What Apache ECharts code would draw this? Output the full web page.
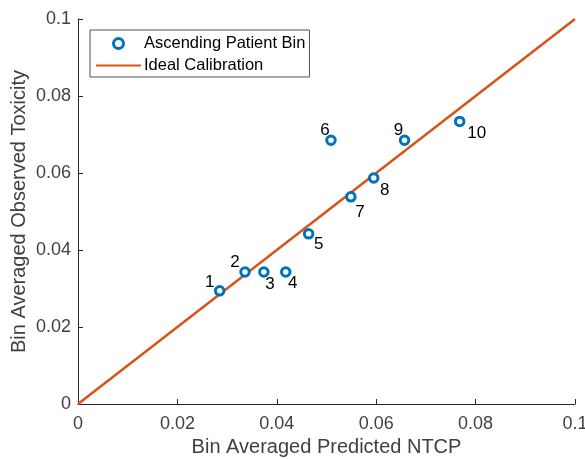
<!DOCTYPE html>
<html>
<head>
<meta charset="utf-8">
<script src="https://cdn.jsdelivr.net/npm/echarts@6/dist/echarts.min.js"></script>
<style>html,body{margin:0;padding:0;background:#fff}#c{width:585px;height:459px}</style>
</head>
<body>
<div id="c"></div>
<script>
var binLabels = ['1','2','3','4','5','6','7','8','9','10'];
var predictedNTCP = [0.0285, 0.0336, 0.0374, 0.0418, 0.0464, 0.0509, 0.0549, 0.0595, 0.0657, 0.0768];
var observedTox = [0.0294, 0.0343, 0.0343, 0.0343, 0.0442, 0.0685, 0.0538, 0.0587, 0.0685, 0.0734];
var labelOffsets = [[-10,-8],[-10,-10],[6,12],[7,11],[10,10],[-6,-10],[9,15],[11,12],[-6,-10],[17,12]];
var idealLine = [[0,0],[0.1,0.1]];
var xTicks = [0, 0.02, 0.04, 0.06, 0.08, 0.1];
var yTicks = [0, 0.02, 0.04, 0.06, 0.08, 0.1];

var txt = '#404040', axc = '#262626';
var font = 'Liberation Sans, Arial, Helvetica, sans-serif';
var chart = echarts.init(document.getElementById('c'), null, {renderer:'canvas'});
var scatterData = predictedNTCP.map(function(x,i){
  return {value:[x, observedTox[i]], label:{offset:labelOffsets[i]}, name: binLabels[i]};
});
function fmt(v){ return String(+v.toFixed(4)); }
chart.setOption({
  animation:false,
  backgroundColor:'#fff',
  textStyle:{fontFamily:font},
  grid:{left:78, right:10, top:19, bottom:55, containLabel:false, outerBoundsMode:'none'},
  xAxis:{type:'value', min:0, max:0.1, interval:0.02,
    name:'Bin Averaged Predicted NTCP', nameLocation:'middle', nameGap:33,
    nameTextStyle:{color:txt, fontSize:20, fontFamily:font},
    axisLine:{show:true, lineStyle:{color:axc, width:1}},
    axisTick:{show:true, inside:true, length:5, lineStyle:{color:axc}},
    axisLabel:{color:txt, fontSize:18, margin:11, fontFamily:font, formatter:fmt, hideOverlap:false},
    splitLine:{show:false}},
  yAxis:{type:'value', min:0, max:0.1, interval:0.02,
    name:'Bin Averaged Observed Toxicity', nameLocation:'middle', nameGap:49, nameMoveOverlap:false,
    nameTextStyle:{color:txt, fontSize:20, fontFamily:font},
    axisLine:{show:true, lineStyle:{color:axc, width:1}},
    axisTick:{show:true, inside:true, length:5, lineStyle:{color:axc}},
    axisLabel:{color:txt, fontSize:18, margin:7, fontFamily:font, formatter:fmt},
    splitLine:{show:false}},
  legend:{left:90, top:30, orient:'vertical', backgroundColor:'#fff',
    borderColor:axc, borderWidth:0.8, borderRadius:0,
    padding:[5,4,3,5], itemWidth:45, itemHeight:10, itemGap:5,
    textStyle:{color:'#000', fontSize:16.5, fontFamily:font, padding:[0,0,0,-2]},
    data:[{name:'Ascending Patient Bin', itemStyle:{color:'#fff', borderColor:'#0072BD', borderWidth:3, opacity:1}},
          {name:'Ideal Calibration', itemStyle:{opacity:0}}]},
  series:[
    {name:'Ideal Calibration', type:'line', data:idealLine, showSymbol:false,
      lineStyle:{color:'#D95319', width:2.5}, itemStyle:{color:'#D95319'}, z:2},
    {name:'Ascending Patient Bin', type:'scatter', data:scatterData, symbol:'circle', symbolSize:8.5,
      itemStyle:{color:'#fff', borderColor:'#0072BD', borderWidth:3, opacity:1}, z:3,
      label:{show:true, position:'inside', color:'#000', fontSize:17, fontFamily:font,
        formatter:function(p){return p.name;}}}
  ]
});
</script>
</body>
</html>
